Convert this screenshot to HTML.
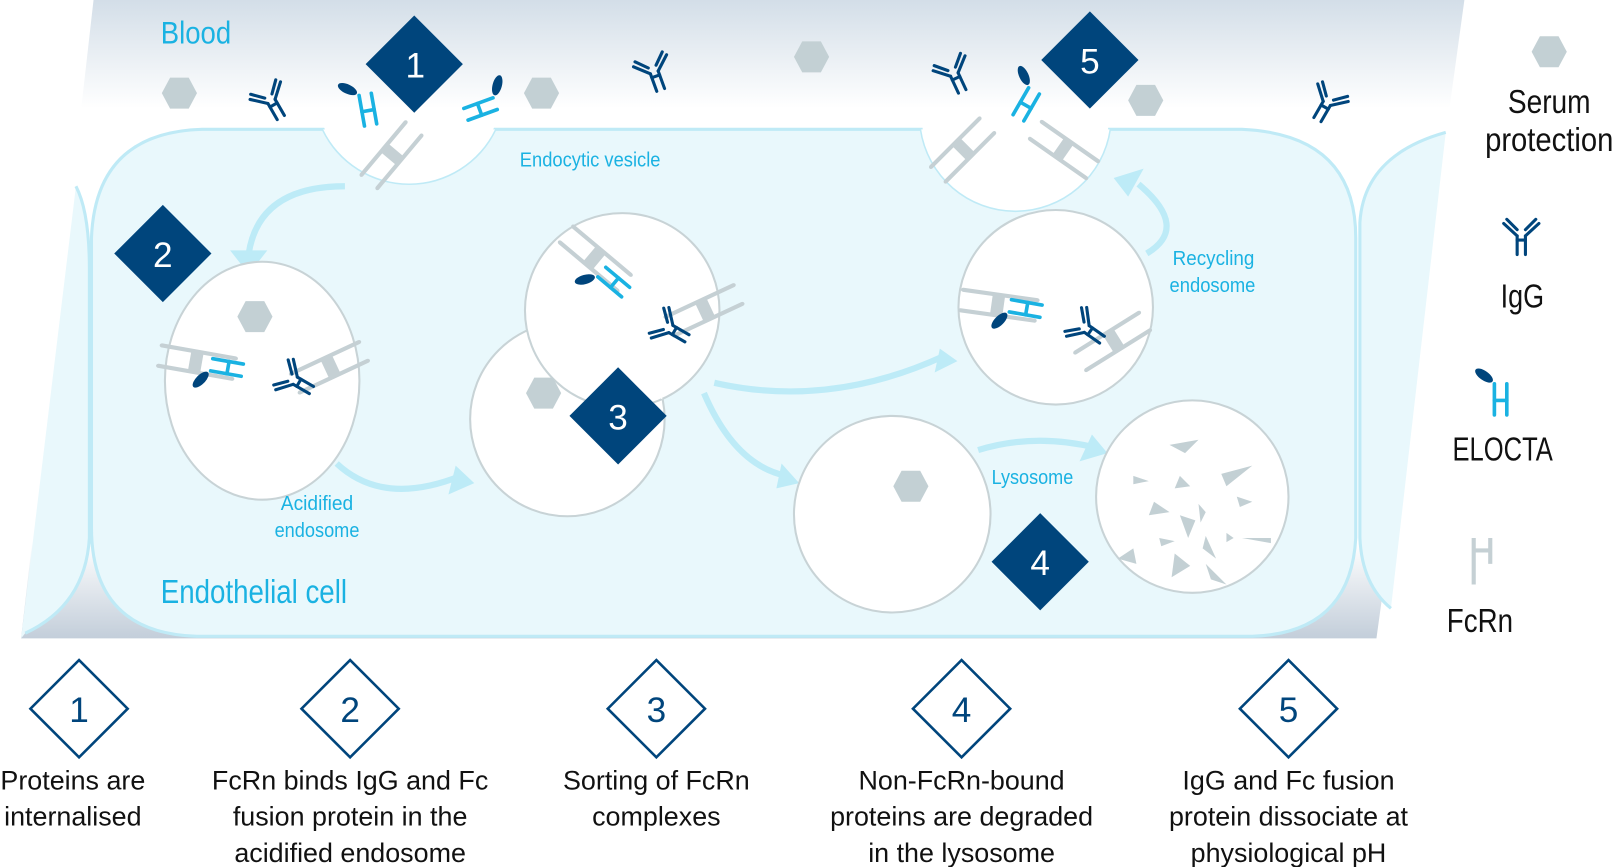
<!DOCTYPE html>
<html><head><meta charset="utf-8"><style>
html,body{margin:0;padding:0;background:#fff;}
svg{display:block;}
.cond{font-family:"Liberation Sans Narrow","Liberation Sans",sans-serif;}
.reg{font-family:"Liberation Sans",sans-serif;}
</style></head><body>
<svg width="1620" height="867" viewBox="0 0 1565 838" xmlns="http://www.w3.org/2000/svg">
<defs>
<linearGradient id="bg" x1="0" y1="0" x2="0" y2="1">
<stop offset="0" stop-color="#d3dee8"/><stop offset="0.17" stop-color="#ffffff"/>
<stop offset="0.85" stop-color="#ffffff"/><stop offset="1" stop-color="#c3ceda"/></linearGradient>
<g id="igg" fill="none" stroke="#00457c" stroke-width="3" stroke-linecap="round">
<line x1="-4" y1="0" x2="-4" y2="18"/><line x1="4" y1="0" x2="4" y2="18"/>
<line x1="-4" y1="0" x2="-17" y2="-12"/><line x1="-4" y1="-6" x2="-14" y2="-16"/>
<line x1="4" y1="0" x2="17" y2="-12"/><line x1="4" y1="-6" x2="14" y2="-16"/>
<line x1="-4" y1="4" x2="4" y2="4"/></g>
<g id="eloc"><g stroke="#1ab2e2" stroke-width="3.5" stroke-linecap="round">
<line x1="-6" y1="-14" x2="-6" y2="16"/><line x1="6" y1="-14" x2="6" y2="16"/><line x1="-6" y1="2" x2="6" y2="2"/></g>
<ellipse cx="-16" cy="-22" rx="10" ry="4.5" transform="rotate(35 -16 -22)" fill="#00457c"/></g>
<g id="fcrn" stroke="#c5d0d4" stroke-width="4" stroke-linecap="round">
<line x1="-10" y1="-30" x2="-10" y2="30"/><line x1="10" y1="-30" x2="10" y2="30"/><rect x="-10" y="-6" width="20" height="10" fill="#c5d0d4" stroke="none"/></g>
<polygon id="hex" points="-9,-15 9,-15 17,0 9,15 -9,15 -17,0" fill="#c3d0d4"/>
</defs>
<rect width="1565" height="838" fill="#fff"/>
<polygon points="90,0 1415,0 1330,617 20,617" fill="url(#bg)"/>
<!-- side cells -->
<path d="M73,180 Q86,205 86,260 L86,520 Q82,585 24,612 L20,617 L73,180 Z" fill="#e9f8fc"/>
<path d="M73,180 Q86,205 86,260 L86,520 Q82,585 24,612" fill="none" stroke="#bfeaf6" stroke-width="3"/>
<path d="M1397,128 Q1318,150 1314,215 L1314,520 Q1316,565 1344,588 L1397,128 Z" fill="#e9f8fc"/>
<path d="M1397,128 Q1318,150 1314,215 L1314,520 Q1316,565 1344,588" fill="none" stroke="#bfeaf6" stroke-width="3"/>
<!-- main cell -->
<path d="M195,125 L312,125 A92,92 0 0 0 478,125 L890,125 A92,92 0 0 0 1072,125 L1200,125 Q1310,130 1310,230 L1310,520 Q1305,612 1210,615 L190,615 Q88,612 88,510 L88,230 Q92,128 195,125 Z" fill="#e9f8fc" stroke="#bfeaf6" stroke-width="3"/>
<!-- arrows -->
<g fill="none" stroke="#bdebf7" stroke-width="6">
<path d="M333,180 Q250,180 240,245"/>
<path d="M325,448 Q370,490 445,460"/>
<path d="M690,370 Q800,395 910,345"/>
<path d="M680,380 Q710,450 760,460"/>
<path d="M945,435 Q1000,418 1060,433"/>
<path d="M1108,245 Q1150,220 1100,178"/>
</g>
<g fill="#bdebf7">
<polygon points="222,242 258,242 240,265"/>
<polygon points="440,450 458,467 433,478"/>
<polygon points="908,337 925,349 903,360"/>
<polygon points="755,448 772,467 750,472"/>
<polygon points="1055,420 1070,438 1043,446"/>
<polygon points="1076,172 1105,163 1090,190"/>
</g>
<!-- compartments -->
<g fill="#fff" stroke="#c8d3d6" stroke-width="2">
<ellipse cx="253" cy="368" rx="94" ry="115"/>
<circle cx="548" cy="405" r="94"/>
<circle cx="601" cy="300" r="94"/>
<circle cx="1020" cy="297" r="94"/>
<circle cx="862" cy="497" r="95"/>
<circle cx="1152" cy="480" r="93"/>
</g>
<path d="M514,327 A94,94 0 0 1 640,386" fill="#fff"/>
<g fill="#fff">
<path d="M312,125 A92,92 0 0 0 478,125 Z"/>
<path d="M890,125 A92,92 0 0 0 1072,125 Z"/>
</g>
<!-- hexagons -->
<use href="#hex" x="173" y="90"/><use href="#hex" x="523" y="90"/><use href="#hex" x="784" y="55"/>
<use href="#hex" x="1107" y="97"/><use href="#hex" x="1497" y="50"/>
<use href="#hex" x="246" y="306"/><use href="#hex" x="525" y="380"/><use href="#hex" x="880" y="470"/>
<!-- debris -->
<g fill="#c3d0d4">
<polygon points="1130,430 1158,425 1145,438"/><polygon points="1180,458 1210,450 1185,470"/>
<polygon points="1095,460 1110,465 1095,468"/><polygon points="1140,460 1150,470 1135,472"/>
<polygon points="1115,485 1130,495 1110,498"/><polygon points="1158,487 1165,495 1160,505"/>
<polygon points="1195,480 1210,485 1198,490"/><polygon points="1140,498 1155,503 1148,520"/>
<polygon points="1200,520 1228,520 1228,525"/><polygon points="1120,520 1135,523 1122,528"/>
<polygon points="1165,518 1175,540 1162,530"/><polygon points="1080,540 1095,530 1098,545"/>
<polygon points="1135,535 1150,547 1132,558"/><polygon points="1165,545 1185,565 1170,560"/>
<polygon points="1185,515 1192,520 1185,524"/>
</g>
<!-- molecules -->
<use href="#igg" transform="translate(262,98) rotate(-30)"/>
<use href="#igg" transform="translate(632,70) rotate(-20)"/>
<use href="#igg" transform="translate(922,72) rotate(-25)"/>
<use href="#igg" transform="translate(1282,100) rotate(30)"/>
<use href="#eloc" transform="translate(355,105) rotate(-10)"/>
<use href="#eloc" transform="translate(465,105) rotate(70)"/>
<use href="#eloc" transform="translate(992,100) rotate(30)"/>
<use href="#fcrn" transform="translate(378,150) rotate(40) scale(1,1.1)"/>
<use href="#fcrn" transform="translate(930,145) rotate(45) scale(1,1.1)"/>
<use href="#fcrn" transform="translate(1028,145) rotate(-55) scale(1,1.1)"/>
<use href="#fcrn" transform="translate(190,350) rotate(-80) scale(1,1.2)"/>
<use href="#eloc" transform="translate(218,355) rotate(-80)"/>
<use href="#fcrn" transform="translate(318,355) rotate(65) scale(1,1.2)"/>
<use href="#igg" transform="translate(285,368) rotate(-60)"/>
<use href="#fcrn" transform="translate(575,250) rotate(-50) scale(1,1.2)"/>
<use href="#eloc" transform="translate(592,272) rotate(-50)"/>
<use href="#fcrn" transform="translate(680,300) rotate(65) scale(1,1.2)"/>
<use href="#igg" transform="translate(648,318) rotate(-60)"/>
<use href="#fcrn" transform="translate(965,295) rotate(-82) scale(1,1.2)"/>
<use href="#eloc" transform="translate(990,298) rotate(-80)"/>
<use href="#fcrn" transform="translate(1075,330) rotate(58) scale(1,1.2)"/>
<use href="#igg" transform="translate(1050,318) rotate(-55)"/>
<!-- diamonds -->
<g fill="#00457c">
<polygon points="400,15 447,62 400,109 353,62"/>
<polygon points="157,198 204,245 157,292 110,245"/>
<polygon points="597,355 644,402 597,449 550,402"/>
<polygon points="1005,496 1052,543 1005,590 958,543"/>
<polygon points="1053,11 1100,58 1053,105 1006,58"/>
</g>
<g class="cond" fill="#fff" font-size="34" text-anchor="middle">
<text x="401" y="75">1</text><text x="157" y="258">2</text><text x="597" y="415">3</text><text x="1005" y="556">4</text><text x="1053" y="71">5</text>
</g>
<!-- labels -->
<g class="cond" fill="#1ab2e2">
<text x="155" y="42" font-size="30" textLength="68" lengthAdjust="spacingAndGlyphs">Blood</text>
<text x="502" y="161" font-size="20" textLength="136" lengthAdjust="spacingAndGlyphs">Endocytic vesicle</text>
<text x="271" y="493" font-size="20" textLength="70" lengthAdjust="spacingAndGlyphs">Acidified</text>
<text x="265" y="519" font-size="20" textLength="82" lengthAdjust="spacingAndGlyphs">endosome</text>
<text x="155" y="583" font-size="32" textLength="180" lengthAdjust="spacingAndGlyphs">Endothelial cell</text>
<text x="1133" y="256" font-size="20" textLength="79" lengthAdjust="spacingAndGlyphs">Recycling</text>
<text x="1130" y="282" font-size="20" textLength="83" lengthAdjust="spacingAndGlyphs">endosome</text>
<text x="958" y="468" font-size="20" textLength="79" lengthAdjust="spacingAndGlyphs">Lysosome</text>
</g>
<!-- legend -->
<use href="#igg" transform="translate(1470,228)"/>
<use href="#eloc" transform="translate(1450,385)"/>
<g stroke="#c5d0d4" stroke-width="4"><line x1="1424" y1="520" x2="1424" y2="565"/><line x1="1440" y1="520" x2="1440" y2="545"/><line x1="1424" y1="532" x2="1440" y2="532"/></g>
<g class="cond" fill="#111" font-size="32" text-anchor="middle">
<text x="1497" y="109" textLength="80" lengthAdjust="spacingAndGlyphs">Serum</text>
<text x="1497" y="146" textLength="124" lengthAdjust="spacingAndGlyphs">protection</text>
<text x="1471" y="297" textLength="42" lengthAdjust="spacingAndGlyphs">IgG</text>
<text x="1452" y="445" textLength="97" lengthAdjust="spacingAndGlyphs">ELOCTA</text>
<text x="1430" y="611" textLength="64" lengthAdjust="spacingAndGlyphs">FcRn</text>
</g>
<!-- bottom steps -->
<g fill="#fff" stroke="#00457c" stroke-width="2.5">
<polygon points="76,638 123,685 76,732 29,685"/>
<polygon points="338,638 385,685 338,732 291,685"/>
<polygon points="634,638 681,685 634,732 587,685"/>
<polygon points="929,638 976,685 929,732 882,685"/>
<polygon points="1245,638 1292,685 1245,732 1198,685"/>
</g>
<g class="cond" fill="#00457c" font-size="34" text-anchor="middle">
<text x="76" y="698">1</text><text x="338" y="698">2</text><text x="634" y="698">3</text><text x="929" y="698">4</text><text x="1245" y="698">5</text>
</g>
<g class="reg" fill="#111" font-size="26" text-anchor="middle">
<text x="70" y="763">Proteins are</text><text x="70" y="798">internalised</text>
<text x="338" y="763">FcRn binds IgG and Fc</text><text x="338" y="798">fusion protein in the</text><text x="338" y="833">acidified endosome</text>
<text x="634" y="763">Sorting of FcRn</text><text x="634" y="798">complexes</text>
<text x="929" y="763">Non-FcRn-bound</text><text x="929" y="798">proteins are degraded</text><text x="929" y="833">in the lysosome</text>
<text x="1245" y="763">IgG and Fc fusion</text><text x="1245" y="798">protein dissociate at</text><text x="1245" y="833">physiological pH</text>
</g>
</svg>
</body></html>
